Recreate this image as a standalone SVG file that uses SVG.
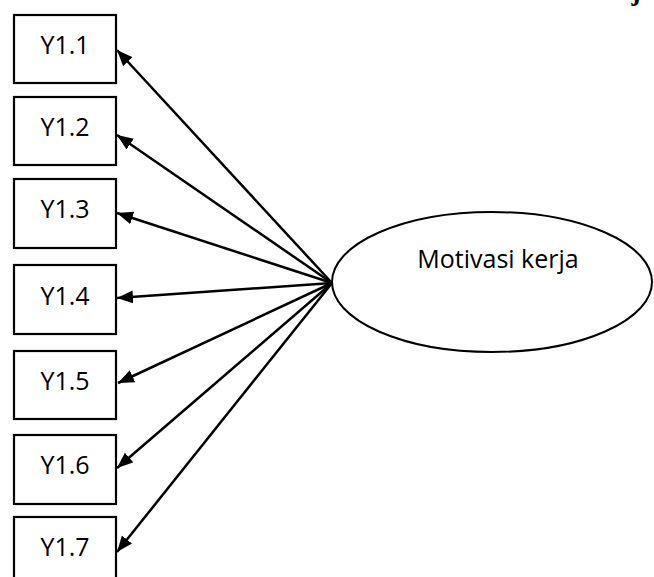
<svg xmlns="http://www.w3.org/2000/svg" width="654" height="577" viewBox="0 0 654 577">
<style>
.box{fill:#fff;stroke:#000;stroke-width:2.2}
.lbl{font-family:"Open Sans","Liberation Sans",sans-serif;font-size:25px;fill:#000;text-anchor:middle}
.con{stroke:#000;stroke-width:2.5;fill:none;marker-end:url(#ah)}
.title{font-family:"Liberation Serif",serif;font-weight:bold;font-size:27px;fill:#000;text-anchor:end}
</style>
<defs>
<marker id="ah" markerUnits="userSpaceOnUse" markerWidth="17" markerHeight="14" refX="16" refY="7" orient="auto">
<path d="M0,0.5 L16,7 L0,13.5 z" fill="#000"/>
</marker>
</defs>
<rect width="654" height="577" fill="#fff"/>
<text class="title" x="654" y="0.4">Model Variabel Motivasi Kerja</text>
<g id="connectors">
<line class="con" x1="332" y1="283" x2="117" y2="50"/>
<line class="con" x1="332" y1="283" x2="117" y2="135"/>
<line class="con" x1="332" y1="283" x2="117" y2="213"/>
<line class="con" x1="332" y1="283" x2="117" y2="298"/>
<line class="con" x1="332" y1="283" x2="118" y2="383"/>
<line class="con" x1="332" y1="283" x2="117" y2="468"/>
<line class="con" x1="332" y1="283" x2="117" y2="552"/>
</g>
<g id="y11"><rect class="box" x="14" y="15" width="102" height="68"/><text class="lbl" x="65" y="54">Y1.1</text></g>
<g id="y12"><rect class="box" x="14" y="97" width="102" height="68"/><text class="lbl" x="65" y="136">Y1.2</text></g>
<g id="y13"><rect class="box" x="14" y="179" width="102" height="69"/><text class="lbl" x="65" y="218">Y1.3</text></g>
<g id="y14"><rect class="box" x="14" y="265" width="102" height="69"/><text class="lbl" x="65" y="305">Y1.4</text></g>
<g id="y15"><rect class="box" x="14" y="351" width="102" height="68"/><text class="lbl" x="65" y="390">Y1.5</text></g>
<g id="y16"><rect class="box" x="14" y="435" width="102" height="69"/><text class="lbl" x="65" y="474">Y1.6</text></g>
<g id="y17"><rect class="box" x="14" y="517" width="102" height="69"/><text class="lbl" x="65" y="556">Y1.7</text></g>
<g id="motivasi"><ellipse cx="492" cy="282" rx="160" ry="70" fill="#fff" stroke="#000" stroke-width="2"/><text class="lbl" x="498" y="268">Motivasi kerja</text></g>
</svg>
